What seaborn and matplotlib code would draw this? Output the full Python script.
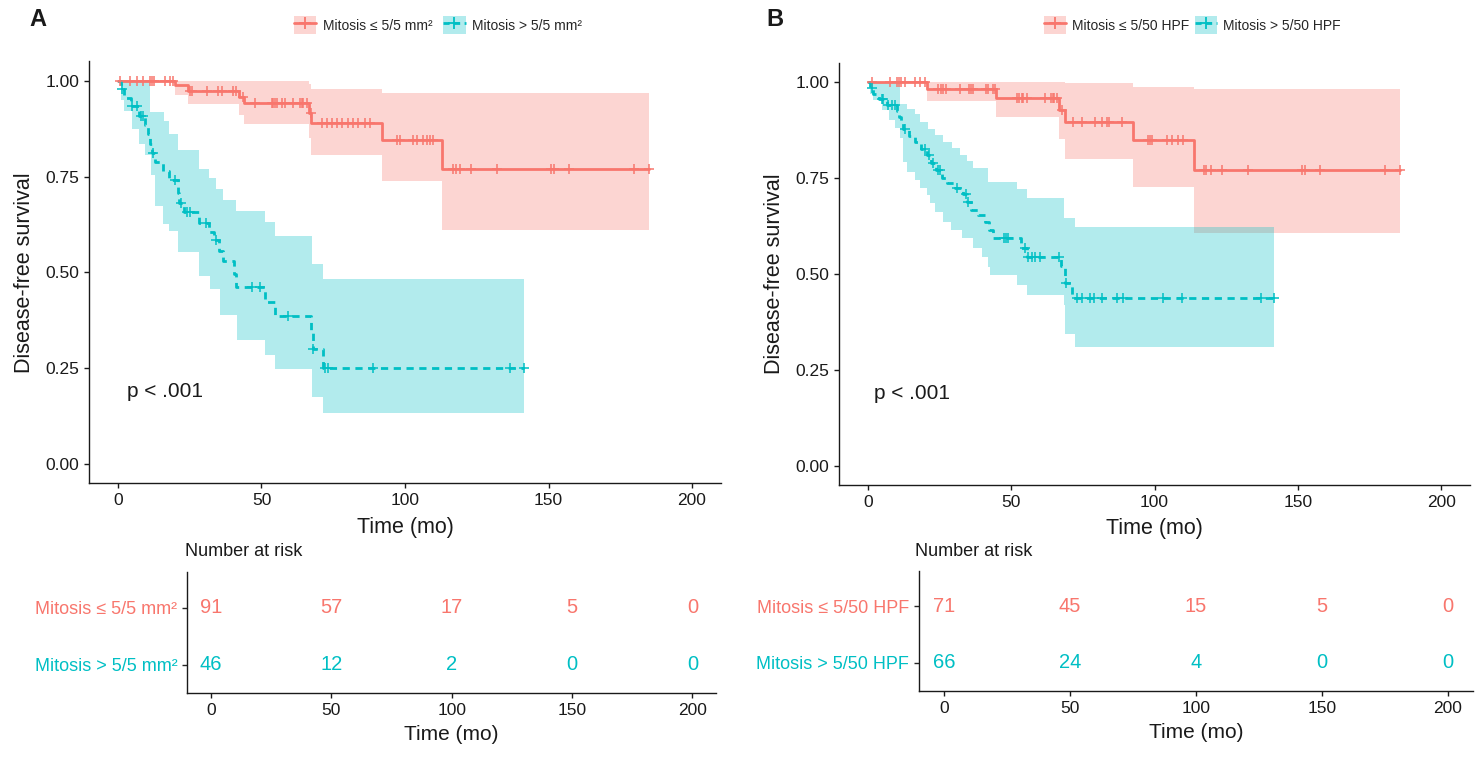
import numpy as np
import pandas as pd
import matplotlib
matplotlib.use("Agg")
import matplotlib.pyplot as plt
from matplotlib.patches import Patch
from matplotlib.lines import Line2D
import seaborn as sns

# ---------------- data ----------------
RED = "#F8766D"
TEAL = "#00BFC4"

# Panel A  (Mitosis <= / > 5/5 mm2)
A_labels = ["Mitosis \u2264 5/5 mm\u00b2", "Mitosis > 5/5 mm\u00b2"]
# low group: step times and survival after each step
A_lo_t = [19.8, 24.5, 42.0, 44.0, 66.5, 67.3, 91.9, 113.0]
A_lo_s = [0.989, 0.973, 0.957, 0.941, 0.915, 0.889, 0.846, 0.770]
A_lo_end = 185.0
A_lo_cens = [0.7, 4.2, 6.5, 8.8, 11.1, 11.7, 12.5, 16.4, 18.1, 19.3, 25.0, 25.7,
             30.9, 34.9, 36.1, 40.1, 41.1, 43.7, 47.7, 53.5, 54.1, 54.7, 55.3,
             57.0, 58.2, 61.1, 63.4, 64.0, 64.6, 65.7, 67.1, 71.0, 72.7, 74.5,
             76.2, 78.0, 80.2, 82.0, 83.7, 86.1, 87.8, 97.3, 98.2, 102.7, 104.1,
             106.2, 107.8, 108.7, 109.7, 116.6, 117.8, 119.2, 122.9, 131.9,
             150.8, 151.9, 157.2, 179.9, 185.0]
A_lo_ciL_t = [0, 19.8, 24.5, 42.0, 44.0, 66.5, 67.3, 91.9, 113.0]
A_lo_ciL = [1.0, 0.963, 0.939, 0.910, 0.887, 0.850, 0.805, 0.738, 0.611]
A_lo_ciU_t = [0, 66.5, 67.3, 91.9]
A_lo_ciU = [1.0, 0.990, 0.978, 0.968]

# high group
A_hi_t = [1.0, 2.1, 4.4, 7.4, 9.4, 10.6, 11.2, 11.8, 12.9, 15.6, 17.9, 20.8,
          21.3, 23.0, 28.4, 31.8, 33.5, 35.3, 36.7, 40.3, 41.2, 51.2, 54.6,
          67.3, 67.8, 71.5]
A_hi_s = [0.978, 0.956, 0.933, 0.909, 0.885, 0.860, 0.835, 0.811, 0.787, 0.764,
          0.741, 0.708, 0.682, 0.657, 0.630, 0.605, 0.585, 0.557, 0.530, 0.497,
          0.462, 0.424, 0.386, 0.343, 0.300, 0.250]
A_hi_end = 141.5
A_hi_cens = [1.3, 4.8, 6.5, 7.9, 8.8, 12.1, 19.9, 21.8, 24.2, 25.1, 30.7, 34.1,
             46.6, 49.5, 59.3, 68.1, 72.1, 73.3, 89.0, 136.6, 141.5]
A_hi_ciL_t = [0, 1.0, 2.1, 4.8, 7.4, 9.4, 11.4, 12.9, 15.6, 17.9, 21.0, 28.4,
              32.1, 35.5, 41.3, 51.2, 54.6, 67.7, 71.5]
A_hi_ciL = [1.0, 0.950, 0.922, 0.874, 0.835, 0.805, 0.753, 0.674, 0.627, 0.609,
            0.553, 0.492, 0.457, 0.388, 0.323, 0.285, 0.249, 0.175, 0.133]
A_hi_ciU_t = [0, 11.1, 16.0, 17.9, 21.0, 28.4, 31.8, 34.1, 36.5, 41.1, 51.2,
              54.7, 67.5, 71.5]
A_hi_ciU = [1.0, 0.918, 0.896, 0.861, 0.818, 0.770, 0.746, 0.718, 0.690, 0.659,
            0.631, 0.595, 0.523, 0.484]

A_risk_times = [0, 50, 100, 150, 200]
A_risk_lo = [91, 57, 17, 5, 0]
A_risk_hi = [46, 12, 2, 0, 0]

# Panel B  (Mitosis <= / > 5/50 HPF)
B_labels = ["Mitosis \u2264 5/50 HPF", "Mitosis > 5/50 HPF"]
B_lo_t = [20.5, 44.8, 66.8, 68.6, 92.6, 113.9]
B_lo_s = [0.982, 0.959, 0.927, 0.895, 0.849, 0.771]
B_lo_end = 185.7
B_lo_cens = [1.3, 7.8, 10.0, 11.0, 11.7, 12.9, 16.5, 18.3, 20.0, 24.5, 25.6,
             26.3, 27.4, 32.1, 35.2, 35.9, 36.8, 41.1, 42.0, 43.6, 44.3, 51.9,
             52.6, 53.6, 54.2, 55.4, 61.8, 63.8, 64.4, 65.0, 65.8, 67.7, 71.4,
             74.7, 79.2, 81.6, 83.3, 84.2, 88.5, 97.8, 98.4, 99.0, 104.2, 105.9,
             108.3, 110.0, 117.1, 118.0, 119.8, 123.5, 132.6, 151.4, 152.6,
             157.8, 180.5, 185.7]
B_lo_ciL_t = [0, 20.5, 44.8, 66.8, 68.6, 92.6, 113.9]
B_lo_ciL = [1.0, 0.951, 0.909, 0.852, 0.800, 0.727, 0.606]
B_lo_ciU_t = [0, 68.6, 92.6, 113.9]
B_lo_ciU = [1.0, 0.997, 0.988, 0.981]

B_hi_t = [0.8, 1.9, 4.0, 6.5, 10.2, 10.9, 11.7, 12.3, 14.5, 16.5, 18.5, 20.5,
          22.0, 23.8, 25.8, 27.5, 30.5, 33.0, 34.6, 35.8, 38.5, 41.0, 42.2,
          43.5, 53.5, 55.5, 67.5, 68.6, 71.2]
B_hi_s = [0.985, 0.970, 0.955, 0.940, 0.924, 0.909, 0.893, 0.877, 0.860, 0.843,
          0.826, 0.810, 0.790, 0.770, 0.751, 0.737, 0.724, 0.708, 0.688, 0.668,
          0.654, 0.635, 0.614, 0.594, 0.569, 0.545, 0.520, 0.477, 0.438]
B_hi_end = 141.7
B_hi_cens = [1.6, 4.8, 5.4, 7.1, 8.3, 9.4, 12.9, 19.9, 21.3, 22.8, 24.5, 25.1,
             31.2, 34.2, 35.0, 47.3, 48.2, 49.0, 54.8, 56.0, 57.1, 58.3, 60.0,
             66.8, 69.1, 72.8, 74.6, 77.5, 78.7, 81.6, 86.8, 89.1, 103.1, 109.5,
             137.1, 141.7]
B_hi_ciL_t = [0, 0.8, 1.9, 4.8, 7.4, 9.4, 11.2, 12.1, 13.5, 16.4, 18.2, 20.5,
              21.7, 23.4, 26.3, 28.9, 32.7, 36.8, 39.7, 42.0, 42.6, 51.9, 55.4,
              68.4, 68.8, 72.2]
B_hi_ciL = [1.0, 0.970, 0.953, 0.927, 0.901, 0.880, 0.853, 0.793, 0.766, 0.745,
            0.723, 0.706, 0.684, 0.662, 0.636, 0.615, 0.593, 0.567, 0.545, 0.519,
            0.497, 0.471, 0.445, 0.419, 0.345, 0.311]
B_hi_ciU_t = [0, 11.2, 13.5, 16.4, 18.2, 21.1, 23.4, 26.3, 29.2, 32.1, 34.7,
              36.8, 42.0, 51.9, 55.4, 68.4, 72.2]
B_hi_ciU = [1.0, 0.942, 0.931, 0.918, 0.897, 0.877, 0.862, 0.844, 0.829, 0.811,
            0.794, 0.777, 0.740, 0.721, 0.699, 0.647, 0.623]

B_risk_times = [0, 50, 100, 150, 200]
B_risk_lo = [71, 45, 15, 5, 0]
B_risk_hi = [66, 24, 4, 0, 0]

p_text = "p < .001"

# ---------------- styling ----------------
sns.set_theme(style="ticks")
plt.rcParams["font.family"] = ["Liberation Sans", "DejaVu Sans"]
plt.rcParams["axes.linewidth"] = 1.0
plt.rcParams["xtick.major.width"] = 1.0
plt.rcParams["ytick.major.width"] = 1.0
plt.rcParams["xtick.major.size"] = 3.5
plt.rcParams["ytick.major.size"] = 3.5
TXT = "#1a1a1a"

fig = plt.figure(figsize=(14.83, 7.57), dpi=100)


def step_at(times, vals, q):
    times = np.asarray(times, float)
    vals = np.asarray(vals, float)
    idx = np.searchsorted(times, q, side="right") - 1
    idx = np.clip(idx, 0, len(vals) - 1)
    return vals[idx]


def draw_group(ax, t, s, end, cens, ciL_t, ciL, ciU_t, ciU, color, ls):
    # confidence band
    grid = np.unique(np.concatenate([ciL_t, ciU_t, [end]]))
    grid = grid[grid <= end]
    lo = step_at(ciL_t, ciL, grid)
    hi = step_at(ciU_t, ciU, grid)
    ax.fill_between(grid, lo, hi, step="post", color=color, alpha=0.3, lw=0)
    # KM step curve
    ct = [0.0] + list(t) + [end]
    cs = [1.0] + list(s) + [s[-1]]
    df = pd.DataFrame({"t": ct, "s": cs})
    sns.lineplot(data=df, x="t", y="s", ax=ax, color=color, lw=2.0,
                 drawstyle="steps-post", estimator=None, sort=False,
                 linestyle=ls)
    # censor marks
    full_t = [0.0] + list(t)
    full_s = [1.0] + list(s)
    cy = step_at(full_t, full_s, np.asarray(cens))
    cdf = pd.DataFrame({"t": cens, "s": cy})
    sns.scatterplot(data=cdf, x="t", y="s", ax=ax, marker="+", s=55,
                    color=color, linewidth=1.1, zorder=5)


def main_panel(rect, groups, ptxt, pxy):
    ax = fig.add_axes(rect)
    for g in groups:
        draw_group(ax, *g)
    ax.set_xlim(-10, 210)
    ax.set_ylim(-0.05, 1.05)
    ax.set_xticks([0, 50, 100, 150, 200])
    ax.set_yticks([0, 0.25, 0.5, 0.75, 1.0])
    ax.set_yticklabels(["0.00", "0.25", "0.50", "0.75", "1.00"])
    ax.tick_params(labelsize=12.5, colors=TXT)
    ax.set_xlabel("Time (mo)", fontsize=15.5, color=TXT, labelpad=6)
    ax.set_ylabel("Disease-free survival", fontsize=15.5, color=TXT, labelpad=8)
    ax.text(pxy[0], pxy[1], ptxt, fontsize=15, color=TXT, va="center", ha="left")
    for sp in ["top", "right"]:
        ax.spines[sp].set_visible(False)
    ax.spines["left"].set_color(TXT)
    ax.spines["bottom"].set_color(TXT)
    return ax


def risk_panel(rect, labels, times, lo, hi, title_xy):
    ax = fig.add_axes(rect)
    for tt, v in zip(times, lo):
        ax.text(tt, 2, str(v), color=RED, fontsize=14.5, ha="center", va="center")
    for tt, v in zip(times, hi):
        ax.text(tt, 1, str(v), color=TEAL, fontsize=14.5, ha="center", va="center")
    ax.set_xlim(-10, 210)
    ax.set_ylim(0.5, 2.63)
    ax.set_xticks([0, 50, 100, 150, 200])
    ax.set_yticks([2, 1])
    ax.set_yticklabels(labels)
    ax.tick_params(axis="x", labelsize=12.5, colors=TXT)
    ax.tick_params(axis="y", labelsize=13)
    for lbl, c in zip(ax.get_yticklabels(), [RED, TEAL]):
        lbl.set_color(c)
    ax.set_xlabel("Time (mo)", fontsize=15, color=TXT, labelpad=5)
    for sp in ["top", "right"]:
        ax.spines[sp].set_visible(False)
    ax.spines["left"].set_color(TXT)
    ax.spines["bottom"].set_color(TXT)
    fig.text(title_xy[0], title_xy[1], "Number at risk", fontsize=13, color=TXT,
             ha="left", va="center")
    return ax


def legend(labels, center_x, colsp):
    h1 = (Patch(facecolor=RED, alpha=0.3, lw=0),
          Line2D([], [], color=RED, lw=2.0, marker="+", markersize=9, mew=1.3))
    h2 = (Patch(facecolor=TEAL, alpha=0.3, lw=0),
          Line2D([], [], color=TEAL, lw=2.0, ls=(0, (2.2, 1.6)), marker="+",
                 markersize=9, mew=1.3))
    fig.legend([h1, h2], labels, loc="center", bbox_to_anchor=(center_x, 0.967),
               ncol=2, frameon=False, fontsize=10, handlelength=1.6,
               handleheight=1.6, handletextpad=0.45, columnspacing=colsp,
               borderaxespad=0)


dash = (0, (2.6, 2.0))

# Panel A
main_panel([0.0602, 0.3613, 0.4258, 0.5575],
           [(A_lo_t, A_lo_s, A_lo_end, A_lo_cens, A_lo_ciL_t, A_lo_ciL,
             A_lo_ciU_t, A_lo_ciU, RED, "-"),
            (A_hi_t, A_hi_s, A_hi_end, A_hi_cens, A_hi_ciL_t, A_hi_ciL,
             A_hi_ciU_t, A_hi_ciU, TEAL, dash)],
           p_text, (3.0, 0.19))
risk_panel([0.1261, 0.0840, 0.3570, 0.1610], A_labels, A_risk_times,
           A_risk_lo, A_risk_hi, (0.1247, 0.271))
legend(A_labels, 0.2953, 0.8)

# Panel B
main_panel([0.5659, 0.3590, 0.4253, 0.5580],
           [(B_lo_t, B_lo_s, B_lo_end, B_lo_cens, B_lo_ciL_t, B_lo_ciL,
             B_lo_ciU_t, B_lo_ciU, RED, "-"),
            (B_hi_t, B_hi_s, B_hi_end, B_hi_cens, B_hi_ciL_t, B_hi_ciL,
             B_hi_ciU_t, B_hi_ciU, TEAL, dash)],
           p_text, (2.0, 0.19))
risk_panel([0.6196, 0.0870, 0.3737, 0.1590], B_labels, B_risk_times,
           B_risk_lo, B_risk_hi, (0.6170, 0.271))
legend(B_labels, 0.804, 0.35)

fig.text(0.0256, 0.9736, "A", fontsize=17, fontweight="bold", color=TXT,
         ha="center", va="center")
fig.text(0.5226, 0.9736, "B", fontsize=17, fontweight="bold", color=TXT,
         ha="center", va="center")

fig.savefig("out.png", dpi=100)
